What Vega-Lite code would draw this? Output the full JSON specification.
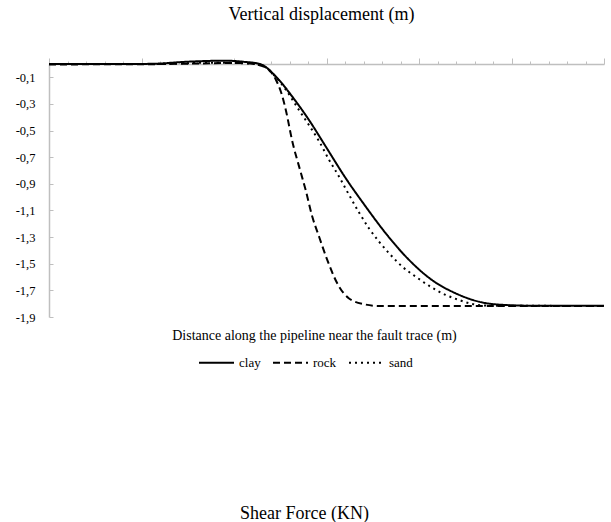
{
  "$schema": "https://vega.github.io/schema/vega-lite/v6.json",
  "padding": {"left": 15, "top": 5, "right": 6, "bottom": 0},
  "config": {
    "font": "Liberation Serif",
    "view": {"stroke": null},
    "locale": {"number": {"decimal": ",", "thousands": ".", "grouping": [3], "currency": ["", " €"], "minus": "-"}},
    "title": {"fontSize": 18, "fontWeight": "normal", "color": "#000000", "font": "Liberation Serif"},
    "axis": {"grid": false, "labelColor": "#000000", "titleColor": "#000000", "labelFont": "Liberation Serif", "titleFont": "Liberation Serif"},
    "legend": {"labelFont": "Liberation Serif", "labelColor": "#000000"}
  },
  "datasets": {
    "curves": [
      {"soil": "clay", "distance": 0, "displacement": 0},
      {"soil": "clay", "distance": 3, "displacement": 0},
      {"soil": "clay", "distance": 5.4, "displacement": 0.001},
      {"soil": "clay", "distance": 7.6, "displacement": 0.018},
      {"soil": "clay", "distance": 9.5, "displacement": 0.025},
      {"soil": "clay", "distance": 10.5, "displacement": 0.017},
      {"soil": "clay", "distance": 11.4, "displacement": 0.0},
      {"soil": "clay", "distance": 12.4, "displacement": -0.115},
      {"soil": "clay", "distance": 13.15, "displacement": -0.245},
      {"soil": "clay", "distance": 14.05, "displacement": -0.42},
      {"soil": "clay", "distance": 14.96, "displacement": -0.62},
      {"soil": "clay", "distance": 16.04, "displacement": -0.858},
      {"soil": "clay", "distance": 17.12, "displacement": -1.071},
      {"soil": "clay", "distance": 18.2, "displacement": -1.271},
      {"soil": "clay", "distance": 19.46, "displacement": -1.471},
      {"soil": "clay", "distance": 20.7, "displacement": -1.622},
      {"soil": "clay", "distance": 21.98, "displacement": -1.722},
      {"soil": "clay", "distance": 23.24, "displacement": -1.785},
      {"soil": "clay", "distance": 24.69, "displacement": -1.81},
      {"soil": "clay", "distance": 26.1, "displacement": -1.815},
      {"soil": "clay", "distance": 30, "displacement": -1.815},
      {"soil": "rock", "distance": 0, "displacement": -0.003},
      {"soil": "rock", "distance": 5, "displacement": -0.002},
      {"soil": "rock", "distance": 8.1, "displacement": 0.004},
      {"soil": "rock", "distance": 10.27, "displacement": 0.008},
      {"soil": "rock", "distance": 11.24, "displacement": -0.004},
      {"soil": "rock", "distance": 11.9, "displacement": -0.045},
      {"soil": "rock", "distance": 12.27, "displacement": -0.12},
      {"soil": "rock", "distance": 12.54, "displacement": -0.21},
      {"soil": "rock", "distance": 12.8, "displacement": -0.345},
      {"soil": "rock", "distance": 13.15, "displacement": -0.58},
      {"soil": "rock", "distance": 13.6, "displacement": -0.81},
      {"soil": "rock", "distance": 13.88, "displacement": -0.95},
      {"soil": "rock", "distance": 14.23, "displacement": -1.146},
      {"soil": "rock", "distance": 14.6, "displacement": -1.297},
      {"soil": "rock", "distance": 15.04, "displacement": -1.471},
      {"soil": "rock", "distance": 15.68, "displacement": -1.672},
      {"soil": "rock", "distance": 16.2, "displacement": -1.759},
      {"soil": "rock", "distance": 17.03, "displacement": -1.804},
      {"soil": "rock", "distance": 17.84, "displacement": -1.817},
      {"soil": "rock", "distance": 30, "displacement": -1.817},
      {"soil": "sand", "distance": 0, "displacement": 0},
      {"soil": "sand", "distance": 5.4, "displacement": 0},
      {"soil": "sand", "distance": 9.0, "displacement": 0.01},
      {"soil": "sand", "distance": 10.8, "displacement": 0.004},
      {"soil": "sand", "distance": 11.46, "displacement": -0.008},
      {"soil": "sand", "distance": 12.07, "displacement": -0.07},
      {"soil": "sand", "distance": 12.81, "displacement": -0.195},
      {"soil": "sand", "distance": 13.51, "displacement": -0.345},
      {"soil": "sand", "distance": 14.15, "displacement": -0.48},
      {"soil": "sand", "distance": 14.6, "displacement": -0.58},
      {"soil": "sand", "distance": 15.14, "displacement": -0.72},
      {"soil": "sand", "distance": 15.68, "displacement": -0.846},
      {"soil": "sand", "distance": 16.22, "displacement": -0.983},
      {"soil": "sand", "distance": 16.76, "displacement": -1.115},
      {"soil": "sand", "distance": 17.3, "displacement": -1.235},
      {"soil": "sand", "distance": 17.84, "displacement": -1.334},
      {"soil": "sand", "distance": 18.38, "displacement": -1.421},
      {"soil": "sand", "distance": 19.1, "displacement": -1.522},
      {"soil": "sand", "distance": 19.82, "displacement": -1.597},
      {"soil": "sand", "distance": 20.54, "displacement": -1.665},
      {"soil": "sand", "distance": 21.44, "displacement": -1.734},
      {"soil": "sand", "distance": 22.16, "displacement": -1.772},
      {"soil": "sand", "distance": 22.88, "displacement": -1.802},
      {"soil": "sand", "distance": 23.8, "displacement": -1.815},
      {"soil": "sand", "distance": 30, "displacement": -1.817}
    ]
  },
  "vconcat": [
    {
      "title": {"text": "Vertical displacement (m)", "dx": -5, "offset": 33},
      "width": 555,
      "height": 253,
      "data": {"name": "curves"},
      "layer": [
        {
          "mark": {"type": "line", "color": "#000000", "strokeWidth": 2, "interpolate": "monotone"},
          "encoding": {
            "x": {
              "field": "distance", "type": "quantitative",
              "scale": {"domain": [0, 30], "nice": false, "zero": false},
              "axis": {
                "orient": "top", "labels": false, "title": null,
                "values": [0,1,2,3,4,5,6,7,8,9,10,11,12,13,14,15,16,17,18,19,20,21,22,23,24,25,26,27,28,29,30],
                "tickSize": {"condition": {"test": "datum.value % 5 === 0", "value": 6}, "value": 3},
                "domainColor": "#bfbfbf", "tickColor": "#bfbfbf", "domainWidth": 1.5, "tickWidth": 1
              }
            },
            "y": {
              "field": "displacement", "type": "quantitative",
              "scale": {"domain": [-1.9, 0], "nice": false, "zero": false},
              "axis": {
                "title": null,
                "values": [-1.9, -1.7, -1.5, -1.3, -1.1, -0.9, -0.7, -0.5, -0.3, -0.1],
                "format": ".1f",
                "labelFontSize": 12.5,
                "labelOverlap": false,
                "labelBound": false,
                "tickSize": -4,
                "labelPadding": 18,
                "domainColor": "#bfbfbf", "tickColor": "#bfbfbf", "domainWidth": 1.5, "tickWidth": 1
              }
            },
            "strokeDash": {
              "field": "soil", "type": "nominal",
              "scale": {"domain": ["clay", "rock", "sand"], "range": [[1, 0], [7, 4], [2, 4]]},
              "legend": {
                "orient": "none", "legendX": 149, "legendY": 280,
                "direction": "horizontal", "title": null,
                "symbolType": "stroke", "symbolSize": 1225, "symbolStrokeWidth": 2,
                "symbolStrokeColor": "#000000", "labelFontSize": 13, "labelOffset": 4, "columnPadding": 8
              }
            }
          }
        },
        {
          "mark": {"type": "line", "opacity": 0, "interpolate": "monotone"},
          "encoding": {
            "x": {
              "field": "distance", "type": "quantitative",
              "axis": {
                "orient": "bottom", "domain": false, "ticks": false, "labels": false,
                "title": "Distance along the pipeline near the fault trace (m)",
                "titleFontSize": 14, "titleFontWeight": "normal", "titlePadding": 11, "titleX": 265
              }
            },
            "y": {
              "field": "displacement", "type": "quantitative",
              "axis": {
                "title": null,
                "values": [-1.9, -1.7, -1.5, -1.3, -1.1, -0.9, -0.7, -0.5, -0.3, -0.1],
                "format": ".1f",
                "labelFontSize": 12.5,
                "labelOverlap": false,
                "labelBound": false,
                "tickSize": -4,
                "labelPadding": 18,
                "domainColor": "#bfbfbf", "tickColor": "#bfbfbf", "domainWidth": 1.5, "tickWidth": 1
              }
            },
            "detail": {"field": "soil", "type": "nominal"}
          }
        }
      ],
      "resolve": {"axis": {"x": "independent"}}
    },
    {
      "title": {"text": "Shear Force (KN)", "dx": -22},
      "width": 555,
      "height": 10,
      "data": {"values": [{"a": 0}]},
      "mark": {"type": "point", "opacity": 0},
      "encoding": {}
    }
  ],
  "resolve": {"legend": {"strokeDash": "independent"}},
  "spacing": 135
}
